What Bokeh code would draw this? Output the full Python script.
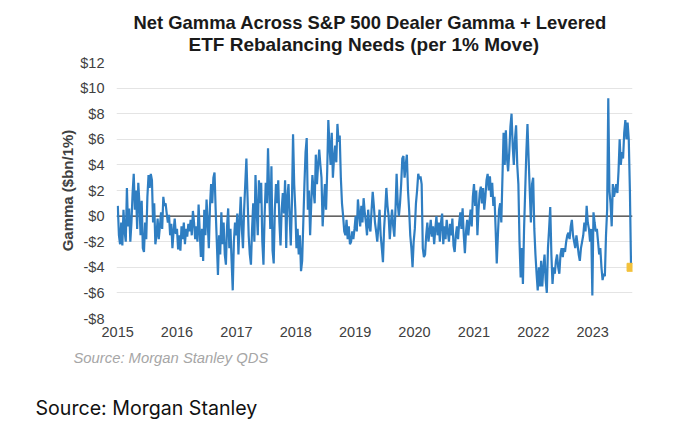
import pandas as pd
from bokeh.plotting import figure
from bokeh.models import Span, FixedTicker, DatetimeTickFormatter, Range1d, Title
from bokeh.embed import file_html
from bokeh.resources import INLINE

# ---------------- data (weekly readings, $bn per 1% move) ----------------
start_date = "2015-01-02"
gamma_2015 = [0.8, -1.5, -2.2, -0.5, -2.3, 0.5, -1.2, -2.0, 2.2, -0.8, 0.6, -2.0, -0.5,
              1.8, 3.3, 0.5, 2.0, -1.0, 2.6, 1.0, -1.5, 1.2, -2.5, -2.8, -0.5, -1.8,
              1.5, 3.2, 2.2, 3.3, 2.8, -0.5, 1.0, -2.2, -1.5, -0.2, -1.8, -0.8, 0.3,
              -1.0, 1.5, 0.8, 1.0, 0.2, -0.5, 0.1, -1.5, -0.6, -2.5, -1.2, -0.2, -1.4]
gamma_2016 = [-1.0, -2.6, -1.5, -2.7, -0.8, -1.8, -0.5, -2.2, -1.0, -1.6, -0.6, -1.2, -0.3,
              -1.5, 0.4, -0.5, -1.8, -0.8, -2.0, 0.9, -1.2, -3.2, -1.0, -3.5, 0.5, -1.5,
              1.3, -0.5, -2.5, 0.8, 2.5, 1.0, 3.0, 3.4, 0.5, -2.0, -4.6, -1.5, -3.0,
              0.3, -2.2, -0.5, -3.0, -3.8, -0.8, 0.6, -2.5, -1.0, -3.5, -5.8, -2.0, -0.5]
gamma_2017 = [-1.5, 0.2, -3.0, -0.5, 1.5, -1.0, -2.5, 0.5, 2.5, 4.5, 1.5, -1.5, -3.0,
              -3.8, -1.0, 1.0, -2.0, 3.2, 0.5, -1.5, 2.8, 1.0, 2.6, -2.0, -3.8, 0.0,
              2.6, 1.0, 5.3, 2.0, -1.0, 3.9, -2.7, -3.7, 0.5, 2.5, 1.0, 2.8, -0.5,
              -2.3, 0.5, 1.8, 0.2, 2.8, -2.5, 1.5, 2.5, 0.0, -2.3, 1.0, 6.4, 2.5]
gamma_2018 = [0.5, -2.5, -1.0, -3.0, -1.5, -4.3, -3.5, -0.5, 2.5, 5.0, 6.1, 0.5, 2.0,
              -1.5, 1.0, 3.2, 2.0, 1.0, 4.8, 2.5, 4.0, 5.2, 4.0, 3.0, -0.8, 1.0,
              2.5, 0.5, 3.5, 7.5, 5.5, 4.0, 6.5, 3.0, 4.5, 5.5, 4.2, 7.2, 5.8,
              6.3, 3.0, 1.0, 0.0, -1.2, -1.5, -0.3, -1.8, -0.8, -2.2, -2.0, -1.2, -1.8]
gamma_2019 = [-1.0, 0.0, -1.2, 1.3, 0.2, -0.8, 0.8, -0.5, 1.4, 0.3, -0.5, -1.5, 0.5,
              -0.8, -1.2, 0.5, 1.9, 0.8, -0.5, -1.2, -2.0, -0.8, 0.5, -1.5, -2.5, -3.6,
              -1.0, 0.5, 2.2, 0.8, 0.0, -1.8, -0.5, 0.5, -0.8, -1.6, 0.5, 3.3, 1.0,
              0.0, 1.0, 2.5, 4.5, 4.7, 3.0, 4.0, 4.8, 2.0, 0.5, -1.5, -2.5, -4.0]
gamma_2020 = [-2.0, -1.0, 1.0, 2.0, 3.3, 2.9, 3.1, 2.5, -2.5, -3.2, -3.0, -1.5, -0.5,
              -2.0, -1.2, -0.3, -1.6, -0.8, -2.2, -1.0, 0.0, -1.5, -0.5, -2.0, -0.5, 0.2,
              -2.2, -0.8, -1.8, -0.3, -1.2, -2.0, -0.6, -1.5, -0.2, -2.3, -2.8, -1.5, -0.8,
              -1.8, -0.5, 0.3, -1.0, 0.6, -1.5, -2.9, -1.2, -0.3, -1.5, -0.5, 0.5, -0.8]
gamma_2021 = [1.5, 2.5, 0.8, 2.0, -1.5, 0.5, 1.8, 2.3, 1.0, 2.2, 0.5, 1.5, 2.8,
              3.3, 2.0, 3.1, 1.5, 2.6, 0.8, 1.5, -1.0, -3.7, -1.5, 0.5, 1.0, -0.5,
              3.0, 6.5, 4.0, 6.7, 4.5, 3.5, 5.0, 7.0, 8.0, 5.5, 4.0, 6.0, 7.1,
              4.0, 2.5, -2.0, -4.8, -2.5, -5.3, -1.0, 2.0, 5.0, 7.2, 4.5, 2.0, -0.5]
gamma_2022 = [2.5, 3.0, -1.0, -3.0, -4.5, -5.8, -4.0, -5.5, -3.5, -5.5, -4.0, -3.0, -5.0,
              -6.0, -2.5, -1.0, 0.7, -3.0, -5.3, -4.0, -4.5, -3.5, -3.0, -4.0, -4.5, -3.0,
              -2.5, -3.2, -2.5, -2.8, -2.0, -1.5, -1.3, -1.8, -0.8, -0.3, -1.5, -2.0, -2.5,
              -1.5, -2.2, -3.0, -3.5, -2.5, -2.0, -1.5, -0.5, -1.2, 0.8, -0.5, -1.0, -2.0]
gamma_2023 = [-1.0, -6.2, 0.3, -0.5, -1.2, -1.0, -2.0, -3.0, -2.5, -4.0, -5.0, -4.5, -4.7,
              -1.5, 0.5, 9.2, 2.0, 1.0, -0.8, 2.5, 1.5, 2.0, 2.5, 1.8, 3.5, 6.0,
              4.0, 5.0, 4.5, 6.5, 7.5, 6.0, 7.3, 6.0, 2.0, -4.0]

gamma = (gamma_2015 + gamma_2016 + gamma_2017 + gamma_2018 + gamma_2019 +
         gamma_2020 + gamma_2021 + gamma_2022 + gamma_2023)
dates = pd.date_range(start_date, periods=len(gamma), freq="7D")

y_ticks = [-8, -6, -4, -2, 0, 2, 4, 6, 8, 10, 12]
y_tick_labels = ["-$8", "-$6", "-$4", "-$2", "$0", "$2", "$4", "$6", "$8", "$10", "$12"]
x_tick_years = [2015, 2016, 2017, 2018, 2019, 2020, 2021, 2022, 2023]

title_line1 = "Net Gamma Across S&P 500 Dealer Gamma + Levered"
title_line2 = "ETF Rebalancing Needs (per 1% Move)"
y_title = "Gamma ($bn/1%)"
source_inner = "Source: Morgan Stanley QDS"
source_outer = "Source: Morgan Stanley"

# ---------------- figure ----------------
FONT = "Liberation Sans"
BLUE = "#2f7ec2"

p = figure(width=672, height=422,
           min_border_left=116, min_border_right=40,
           min_border_top=62, min_border_bottom=104,
           x_axis_type="datetime",
           x_range=Range1d(pd.Timestamp("2014-12-25"), pd.Timestamp("2023-09-03")),
           y_range=Range1d(-8, 12),
           output_backend="svg", toolbar_location=None,
           background_fill_color="white", border_fill_color="white")
p.outline_line_color = None

# zero line (beneath the series)
p.add_layout(Span(location=0, dimension="width", line_color="#3a3a3a",
                  line_width=1.3, level="underlay"))

p.line(dates, gamma, line_color=BLUE, line_width=2.2)
p.scatter([dates[-1]], [gamma[-1]], marker="square", size=8,
          fill_color="#f3c13a", line_color="#f3c13a")

# axes
p.yaxis.ticker = FixedTicker(ticks=y_ticks)
p.yaxis.major_label_overrides = dict(zip(y_ticks, y_tick_labels))
p.xaxis.ticker = FixedTicker(ticks=[pd.Timestamp(f"{y}-01-01").value // 10**6 for y in x_tick_years])
fmt = "%Y"
p.xaxis.formatter = DatetimeTickFormatter(years=fmt, months=fmt, days=fmt, hours=fmt,
                                          minutes=fmt, seconds=fmt, milliseconds=fmt,
                                          microseconds=fmt, minsec=fmt, hourmin=fmt)
for ax in (p.xaxis[0], p.yaxis[0]):
    ax.axis_line_color = None
    ax.major_tick_line_color = None
    ax.minor_tick_line_color = None
    ax.major_tick_out = 0
    ax.major_tick_in = 0
    ax.minor_tick_out = 0
    ax.major_label_text_font = FONT
    ax.major_label_text_font_size = "14.5px"
    ax.major_label_text_color = "#404040"
p.yaxis.major_label_standoff = 12
p.xaxis.major_label_standoff = 8
p.yaxis.axis_label = y_title
p.yaxis.axis_label_text_font = FONT
p.yaxis.axis_label_text_font_size = "15px"
p.yaxis.axis_label_text_font_style = "bold"
p.yaxis.axis_label_text_color = "#404040"
p.yaxis.axis_label_standoff = 1

p.xgrid.grid_line_color = None
p.ygrid.grid_line_color = "#e4e4e4"
p.ygrid.grid_line_width = 1

# two title lines above the plot area (stacked outward from the plot)
p.add_layout(Title(text=title_line2, align="left", offset=72, standoff=15,
                   text_font=FONT, text_font_size="19px", text_font_style="bold",
                   text_color="#1a1a1a"), "above")
p.add_layout(Title(text=title_line1, align="left", offset=17, standoff=-17,
                   text_font=FONT, text_font_size="18.4px", text_font_style="bold",
                   text_color="#1a1a1a"), "above")

# texts below the plot area, stacked outward from the x axis
p.add_layout(Title(text=source_inner, align="left", offset=-43, standoff=17,
                   text_font=FONT, text_font_size="14.8px", text_font_style="italic",
                   text_color="#a6a6a6"), "below")
p.add_layout(Title(text="\n" + source_outer, align="left", offset=-81, standoff=0,
                   text_font="Inter", text_font_size="19.6px", text_font_style="normal",
                   text_color="#111111", text_line_height=0.83), "below")

open("out.html", "w").write(file_html(p, INLINE))
